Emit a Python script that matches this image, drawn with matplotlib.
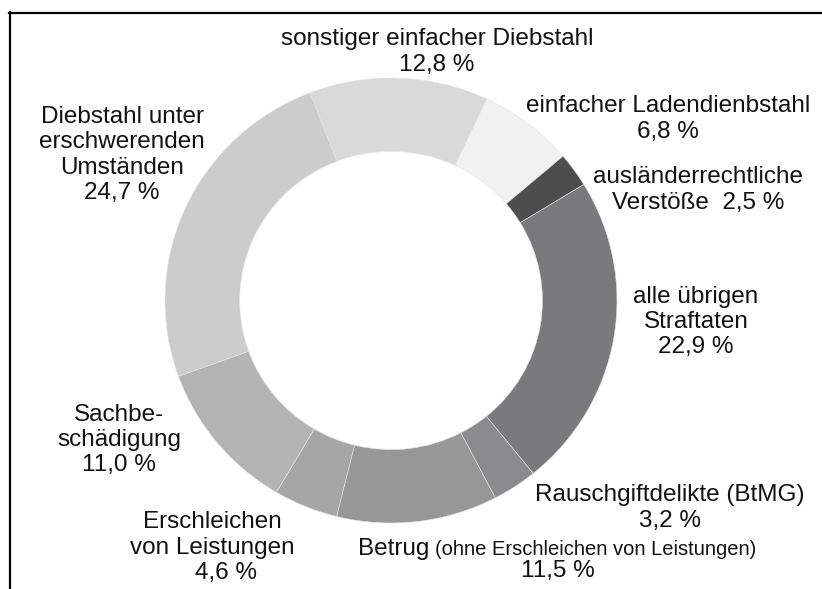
import matplotlib
matplotlib.use("Agg")
import matplotlib.pyplot as plt
from matplotlib.lines import Line2D

# shares in percent, clockwise from the top
categories = [
    "sonstiger einfacher Diebstahl",
    "einfacher Ladendienbstahl",
    "ausländerrechtliche Verstöße",
    "alle übrigen Straftaten",
    "Rauschgiftdelikte (BtMG)",
    "Betrug",
    "Erschleichen von Leistungen",
    "Sachbeschädigung",
    "Diebstahl unter erschwerenden Umständen",
]
shares = [12.8, 6.8, 2.5, 22.9, 3.2, 11.5, 4.6, 11.0, 24.7]
colors = ["#d9d9d9", "#f1f1f1", "#4d4d4d", "#7a7a7c", "#8b8b8d",
          "#979797", "#a6a6a6", "#b3b3b3", "#cccccc"]

# label text, written as in the original
label_texts = [
    "sonstiger einfacher Diebstahl\n12,8 %",
    "einfacher Ladendienbstahl\n6,8 %",
    "ausländerrechtliche\nVerstöße  2,5 %",
    "alle übrigen\nStraftaten\n22,9 %",
    "Rauschgiftdelikte (BtMG)\n3,2 %",
    None,  # Betrug is drawn in two sizes below
    "Erschleichen\nvon Leistungen",
    "Sachbe-\nschädigung\n11,0 %",
    "Diebstahl unter\nerschwerenden\nUmständen\n24,7 %",
]
# label centres in pixels (x, y from top)
label_pos = [(437, 52), (668, 119), (698, 190), (696, 322), (670, 508),
             None, (212, 535), (119, 440), (122, 155)]

W, H = 822, 589
plt.rcParams["font.family"] = ["Liberation Sans", "DejaVu Sans"]
fig = plt.figure(figsize=(W / 100, H / 100), dpi=100)

# donut (very slightly wider than tall, like the original)
cx, cy, rx, ry = 391, 300.5, 226, 222.5
ax = fig.add_axes([(cx - rx) / W, (H - cy - ry) / H, 2 * rx / W, 2 * ry / H])
ax.pie(shares, colors=colors, startangle=111, counterclock=False,
       wedgeprops=dict(width=0.33, edgecolor="#e4e4e4", linewidth=0.4))
ax.set_xlim(-1, 1)
ax.set_ylim(-1, 1)
ax.set_aspect("auto")
ax.axis("off")

# overlay in pixel coordinates for text and frame
ov = fig.add_axes([0, 0, 1, 1], facecolor="none")
ov.set_xlim(0, W)
ov.set_ylim(H, 0)
ov.axis("off")

fs = 17.5
for txt, pos in zip(label_texts, label_pos):
    if txt is None:
        continue
    ov.text(pos[0], pos[1], txt, ha="center", va="center", fontsize=fs,
            linespacing=1.2, color="#111111")
ov.text(226, 573, "4,6 %", ha="center", va="center", fontsize=fs, color="#111111")

# Betrug line: large word plus smaller remark
ov.text(358, 555, "Betrug", ha="left", va="baseline", fontsize=fs, color="#111111")
ov.text(435, 555, "(ohne Erschleichen von Leistungen)", ha="left", va="baseline",
        fontsize=14.5, color="#111111")
ov.text(558, 571, "11,5 %", ha="center", va="center", fontsize=fs, color="#111111")

# frame, cut off at the right and bottom
fig.add_artist(Line2D([9 / W, 1], [1 - 13 / H, 1 - 13 / H], color="black",
                      linewidth=1.6, transform=fig.transFigure))
fig.add_artist(Line2D([9.5 / W, 9.5 / W], [0, 1 - 12 / H], color="black",
                      linewidth=1.6, transform=fig.transFigure))

fig.savefig("out.png", dpi=100, facecolor="white")
